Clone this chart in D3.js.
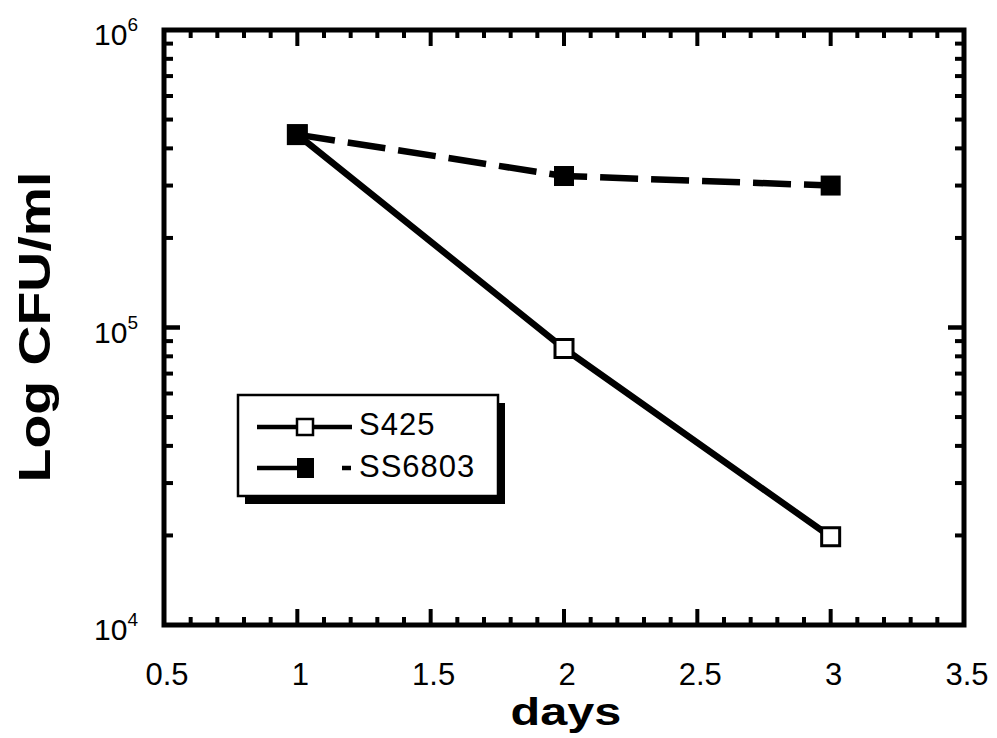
<!DOCTYPE html>
<html>
<head>
<meta charset="utf-8">
<script src="https://cdn.jsdelivr.net/npm/d3@7"></script>
<style>
  body { margin: 0; background: #fff; }
  svg { display: block; }
</style>
</head>
<body>
<div id="chart"></div>
<script>
// data
var days = [1, 2, 3];
var s425 = [4.45e5, 8.5e4, 1.98e4];
var ss6803 = [4.45e5, 3.23e5, 3.0e5];
var seriesNames = ["S425", "SS6803"];
var xTicks = [0.5, 1, 1.5, 2, 2.5, 3, 3.5];
var yDecades = [1e4, 1e5, 1e6];

// dimensions of the plot frame
var margin = {top: 30, right: 33, bottom: 113, left: 164},
    W = 997, H = 738,
    width = W - margin.left - margin.right,
    height = H - margin.top - margin.bottom;

var svg = d3.select("#chart")
  .append("svg")
    .attr("width", W)
    .attr("height", H);

var g = svg.append("g")
    .attr("transform", "translate(" + margin.left + "," + margin.top + ")");

var x = d3.scaleLinear().domain([0.5, 3.5]).range([0, width]);
var y = d3.scaleLog().domain([1e4, 1e6]).range([height, 0]);

// minor / major ticks
var xMinor = d3.range(5, 36).map(function(d) { return d / 10; });
var yMinor = [];
[1e4, 1e5].forEach(function(dec) {
  for (var k = 1; k <= 10; k++) yMinor.push(dec * k);
});

function isMajorX(v) { return Math.abs(v * 2 - Math.round(v * 2)) < 1e-6; }
function isDecade(v) { return yDecades.some(function(d) { return Math.abs(d - v) < 1; }); }

// bottom & top ticks (pointing inward)
g.selectAll(".xtick-b")
  .data(xMinor)
  .enter().append("line")
    .attr("x1", function(d) { return x(d); })
    .attr("x2", function(d) { return x(d); })
    .attr("y1", height)
    .attr("y2", function(d) { return height - (isMajorX(d) ? 16 : 8); })
    .style("stroke", "#000").style("stroke-width", 4);

g.selectAll(".xtick-t")
  .data(xMinor)
  .enter().append("line")
    .attr("x1", function(d) { return x(d); })
    .attr("x2", function(d) { return x(d); })
    .attr("y1", 0)
    .attr("y2", function(d) { return isMajorX(d) ? 16 : 8; })
    .style("stroke", "#000").style("stroke-width", 4);

// left & right ticks
g.selectAll(".ytick-l")
  .data(yMinor)
  .enter().append("line")
    .attr("x1", 0)
    .attr("x2", function(d) { return isDecade(d) ? 16 : 9; })
    .attr("y1", function(d) { return y(d); })
    .attr("y2", function(d) { return y(d); })
    .style("stroke", "#000").style("stroke-width", 4);

g.selectAll(".ytick-r")
  .data(yMinor)
  .enter().append("line")
    .attr("x1", width)
    .attr("x2", function(d) { return width - (isDecade(d) ? 16 : 9); })
    .attr("y1", function(d) { return y(d); })
    .attr("y2", function(d) { return y(d); })
    .style("stroke", "#000").style("stroke-width", 4);

// frame
g.append("rect")
    .attr("x", 0).attr("y", 0)
    .attr("width", width).attr("height", height)
    .style("fill", "none")
    .style("stroke", "#000")
    .style("stroke-width", 5);

// x tick labels
g.selectAll(".xlabel")
  .data(xTicks)
  .enter().append("text")
    .attr("x", function(d) { return x(d) + 3; })
    .attr("y", height + 60)
    .attr("text-anchor", "middle")
    .style("font-family", "Liberation Sans, Arial, sans-serif")
    .style("font-size", "31px")
    .text(function(d) { return d; });

// y tick labels (10^n)
var ylab = g.selectAll(".ylabel")
  .data(yDecades)
  .enter().append("text")
    .attr("x", -26)
    .attr("y", function(d) { return y(d) + 15; })
    .attr("text-anchor", "end")
    .style("font-family", "Liberation Sans, Arial, sans-serif")
    .style("font-size", "30px");
ylab.append("tspan").text("10");
ylab.append("tspan")
    .attr("dy", -14)
    .style("font-size", "19px")
    .text(function(d) { return Math.round(Math.log10(d)); });

// lines
var line = d3.line()
    .x(function(d) { return x(d[0]); })
    .y(function(d) { return y(d[1]); });

var s425Pts = days.map(function(d, i) { return [d, s425[i]]; });
var ss6803Pts = days.map(function(d, i) { return [d, ss6803[i]]; });

g.append("path")
    .datum(s425Pts)
    .attr("d", line)
    .style("fill", "none")
    .style("stroke", "#000")
    .style("stroke-width", 6.5)
    .style("stroke-linejoin", "round");

g.append("path")
    .datum(ss6803Pts)
    .attr("d", line)
    .style("fill", "none")
    .style("stroke", "#000")
    .style("stroke-width", 6.5)
    .style("stroke-dasharray", "38,13");

// markers
var ms = 18;
g.selectAll(".open")
  .data(s425Pts)
  .enter().append("rect")
    .attr("x", function(d) { return x(d[0]) - ms / 2; })
    .attr("y", function(d) { return y(d[1]) - ms / 2; })
    .attr("width", ms).attr("height", ms)
    .style("fill", "#fff")
    .style("stroke", "#000")
    .style("stroke-width", 3);

g.selectAll(".filled")
  .data(ss6803Pts)
  .enter().append("rect")
    .attr("x", function(d) { return x(d[0]) - ms / 2 - 1; })
    .attr("y", function(d) { return y(d[1]) - ms / 2 - 1; })
    .attr("width", ms + 2).attr("height", ms + 2)
    .style("fill", "#000");

// legend
var lg = svg.append("g").attr("transform", "translate(238,395)");
lg.append("rect")
    .attr("x", 7).attr("y", 8)
    .attr("width", 260).attr("height", 101)
    .style("fill", "#000");
lg.append("rect")
    .attr("x", 0).attr("y", 0)
    .attr("width", 260).attr("height", 101)
    .style("fill", "#fff")
    .style("stroke", "#000")
    .style("stroke-width", 2.5);

// entry 1
lg.append("line")
    .attr("x1", 19).attr("x2", 114).attr("y1", 32).attr("y2", 32)
    .style("stroke", "#000").style("stroke-width", 4.5);
lg.append("rect")
    .attr("x", 59).attr("y", 24).attr("width", 16).attr("height", 16)
    .style("fill", "#fff").style("stroke", "#000").style("stroke-width", 2.5);
// entry 2
lg.append("line")
    .attr("x1", 19).attr("x2", 60).attr("y1", 73).attr("y2", 73)
    .style("stroke", "#000").style("stroke-width", 4.5);
lg.append("line")
    .attr("x1", 104).attr("x2", 113).attr("y1", 73).attr("y2", 73)
    .style("stroke", "#000").style("stroke-width", 4.5);
lg.append("rect")
    .attr("x", 59).attr("y", 63).attr("width", 17).attr("height", 20)
    .style("fill", "#000");

lg.selectAll(".ltext")
  .data(seriesNames)
  .enter().append("text")
    .attr("x", 121)
    .attr("y", function(d, i) { return 40 + i * 42; })
    .style("font-family", "Liberation Sans, Arial, sans-serif")
    .style("font-size", "31px")
    .style("letter-spacing", "1px")
    .text(function(d) { return d; });

// axis titles
svg.append("g")
    .attr("transform", "translate(566,725) scale(1.28,1)")
  .append("text")
    .attr("text-anchor", "middle")
    .style("font-family", "Liberation Sans, Arial, sans-serif")
    .style("font-weight", "bold")
    .style("font-size", "38px")
    .text("days");

svg.append("g")
    .attr("transform", "translate(50,327) rotate(-90) scale(1.26,1)")
  .append("text")
    .attr("text-anchor", "middle")
    .style("font-family", "Liberation Sans, Arial, sans-serif")
    .style("font-weight", "bold")
    .style("font-size", "44px")
    .text("Log  CFU/ml");
</script>
</body>
</html>
